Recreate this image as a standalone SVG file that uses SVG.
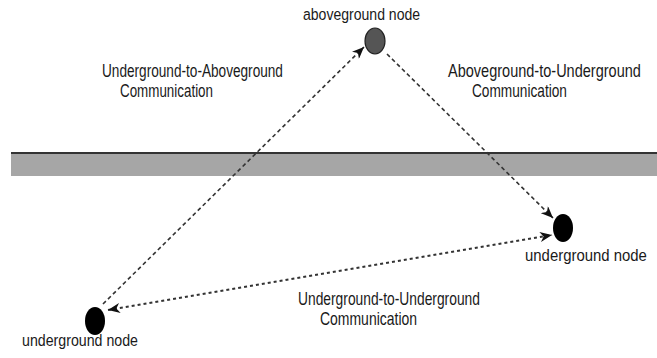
<svg xmlns="http://www.w3.org/2000/svg" width="657" height="358" viewBox="0 0 657 358">
<style>
text{font-family:"Liberation Sans",Arial,sans-serif;fill:#1a1a1a;}
.lbl{font-size:18px;}
.nl{font-size:17px;}
.c{fill:none;stroke:#333;stroke-width:1.6;}
.dash{stroke-dasharray:4 3;}
.dot{stroke-dasharray:3 3;stroke-width:2;}
</style>
<defs>
<marker id="ah" markerUnits="userSpaceOnUse" viewBox="0 0 12 10" refX="12" refY="5" markerWidth="12" markerHeight="10" orient="auto-start-reverse">
<path d="M0,0 L12,5 L0,10 L3.5,5 z" fill="#111"/>
</marker>
</defs>
<rect x="0" y="0" width="657" height="358" fill="#fff"/>
<g id="ground">
<rect x="11" y="153" width="646" height="23" fill="#a6a6a6"/>
<line x1="11" y1="153" x2="657" y2="153" stroke="#333" stroke-width="2"/>
</g>
<g id="connectors">
<line class="c dash" x1="103" y1="304" x2="364" y2="47" marker-end="url(#ah)"/>
<line class="c dash" x1="387" y1="54" x2="553" y2="218" marker-end="url(#ah)"/>
<line class="c dot" x1="108" y1="310" x2="552" y2="235" marker-start="url(#ah)" marker-end="url(#ah)"/>
</g>
<g id="aboveground-node">
<ellipse cx="375" cy="41" rx="10" ry="13" fill="#555" stroke="#222" stroke-width="1.2"/>
<text class="nl" transform="translate(303,20) scale(0.827,1)">aboveground node</text>
</g>
<g id="underground-node-right">
<ellipse cx="563" cy="228" rx="10" ry="14" fill="#000"/>
<text class="nl" transform="translate(525,261) scale(0.878,1)">underground node</text>
</g>
<g id="underground-node-left">
<ellipse cx="95" cy="321" rx="10" ry="14" fill="#000"/>
<text class="nl" transform="translate(22,346) scale(0.835,1)">underground node</text>
</g>
<g id="labels">
<text class="lbl" transform="translate(102,77) scale(0.757,1)">Underground-to-Aboveground</text>
<text class="lbl" transform="translate(120,97) scale(0.744,1)">Communication</text>
<text class="lbl" transform="translate(448,77) scale(0.807,1)">Aboveground-to-Underground</text>
<text class="lbl" transform="translate(472,97) scale(0.76,1)">Communication</text>
<text class="lbl" transform="translate(298,305) scale(0.768,1)">Underground-to-Underground</text>
<text class="lbl" transform="translate(320,325) scale(0.776,1)">Communication</text>
</g>
</svg>
